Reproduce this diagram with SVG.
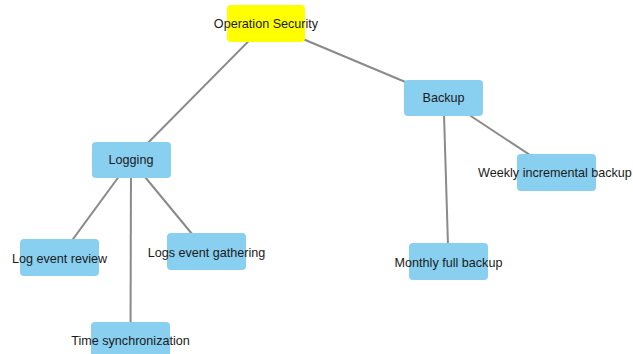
<svg xmlns="http://www.w3.org/2000/svg" width="633" height="354" viewBox="0 0 633 354">
  <style>
    .edge { stroke: #8a8a8a; stroke-width: 2; fill: none; }
    .box { fill: #89cff0; }
    .root { fill: #ffff00; }
    .label { font-family: "Liberation Sans", Arial, sans-serif; font-size: 12.6px; fill: #1a1a1a; text-anchor: middle; dominant-baseline: central; }
  </style>
  <rect width="633" height="354" fill="#ffffff"/>
  <g id="connectors">
    <line class="edge" x1="266" y1="23.5" x2="131" y2="160"/>
    <line class="edge" x1="266" y1="23.5" x2="443.5" y2="98"/>
    <line class="edge" x1="131" y1="160" x2="59.5" y2="257.5"/>
    <line class="edge" x1="131" y1="160" x2="206.5" y2="251.5"/>
    <line class="edge" x1="131" y1="160" x2="130.5" y2="340.5"/>
    <line class="edge" x1="443.5" y1="98" x2="556.5" y2="172.5"/>
    <line class="edge" x1="443.5" y1="98" x2="448.5" y2="261.5"/>
  </g>
  <g id="operation-security">
    <rect class="root" x="227" y="5" width="78" height="37" rx="4"/>
    <text class="label" x="266" y="23.5">Operation Security</text>
  </g>
  <g id="logging">
    <rect class="box" x="92" y="142" width="79" height="36" rx="4"/>
    <text class="label" x="131" y="160">Logging</text>
  </g>
  <g id="backup">
    <rect class="box" x="404" y="80" width="79" height="36" rx="4"/>
    <text class="label" x="443.5" y="98">Backup</text>
  </g>
  <g id="log-event-review">
    <rect class="box" x="20" y="239" width="79" height="37" rx="4"/>
    <text class="label" x="59.5" y="258.5">Log event review</text>
  </g>
  <g id="logs-event-gathering">
    <rect class="box" x="167" y="233" width="79" height="37" rx="4"/>
    <text class="label" x="206.5" y="252.5">Logs event gathering</text>
  </g>
  <g id="time-synchronization">
    <rect class="box" x="91" y="322" width="79" height="37" rx="4"/>
    <text class="label" x="130.5" y="341">Time synchronization</text>
  </g>
  <g id="weekly-incremental-backup">
    <rect class="box" x="517" y="154" width="79" height="37" rx="4"/>
    <text class="label" x="555" y="173">Weekly incremental backup</text>
  </g>
  <g id="monthly-full-backup">
    <rect class="box" x="409" y="243" width="79" height="37" rx="4"/>
    <text class="label" x="448.5" y="262.5">Monthly full backup</text>
  </g>
</svg>
